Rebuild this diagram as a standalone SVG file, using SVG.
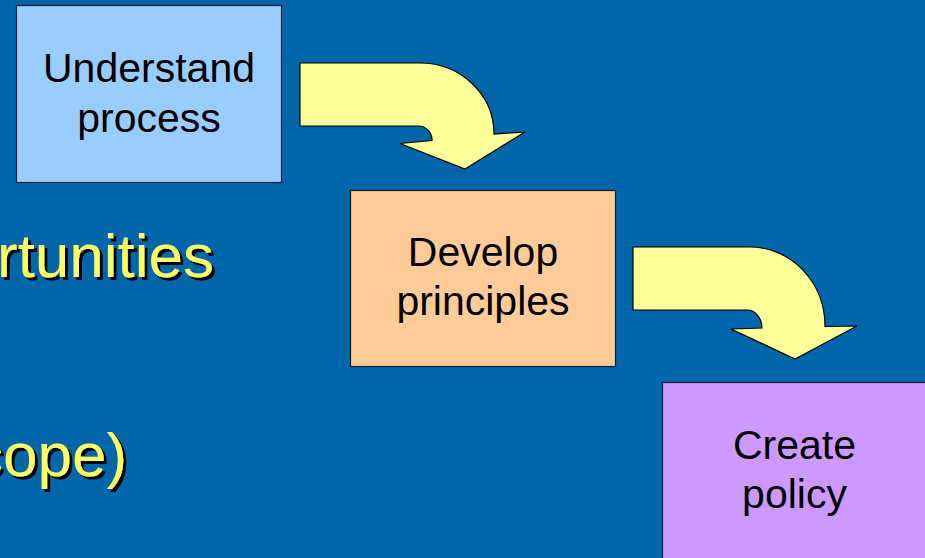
<svg xmlns="http://www.w3.org/2000/svg" width="925" height="558" viewBox="0 0 925 558">
<defs>
<style>
.box{stroke:#1a1a2a;stroke-width:1.2}
.lbl{font-family:"Liberation Sans",Arial,sans-serif;font-size:41px;fill:#000;text-anchor:middle}
.big{font-family:"Liberation Sans",Arial,sans-serif;font-size:62px;fill:#FFFF66;filter:url(#shadow)}
.arrow{fill:#FFFF99;stroke:#000;stroke-width:1.2;stroke-linejoin:miter}
</style>
<filter id="shadow" x="-10%" y="-20%" width="130%" height="150%">
<feOffset in="SourceAlpha" dx="3" dy="3" result="off"/>
<feFlood flood-color="#000"/>
<feComposite in2="off" operator="in" result="sh"/>
<feMerge><feMergeNode in="sh"/><feMergeNode in="SourceGraphic"/></feMerge>
</filter>
</defs>
<rect x="0" y="0" width="925" height="558" fill="#0066AA"/>
<g id="bullets">
<text class="big" x="-3" y="277">rtunities</text>
<text class="big" x="-28" y="476">cope)</text>
</g>
<g id="connectors">
<path class="arrow" d="M300,63 H420 A74 71 0 0 1 494,134 L525,132 L465,169 L400,143.5 L432,140.5 A14 14 0 0 0 418,126 H300 Z"/>
<path class="arrow" d="M633,247 H750 A75 79 0 0 1 825,326.5 L857,326 L795,359 L731,329 L762,328 A15 18 0 0 0 747,310 H633 Z"/>
</g>
<g id="understand">
<rect class="box" x="16.5" y="5.5" width="265" height="177" fill="#99CCFF"/>
<text class="lbl" x="149" y="82">Understand</text>
<text class="lbl" x="149" y="132">process</text>
</g>
<g id="develop">
<rect class="box" x="350.5" y="190.5" width="265" height="176" fill="#FFCC99"/>
<text class="lbl" x="483" y="266">Develop</text>
<text class="lbl" x="483" y="315">principles</text>
</g>
<g id="create">
<rect class="box" x="662.5" y="382.5" width="265" height="177" fill="#CC99FF"/>
<text class="lbl" x="794.5" y="459">Create</text>
<text class="lbl" x="794.5" y="508">policy</text>
</g>
</svg>
